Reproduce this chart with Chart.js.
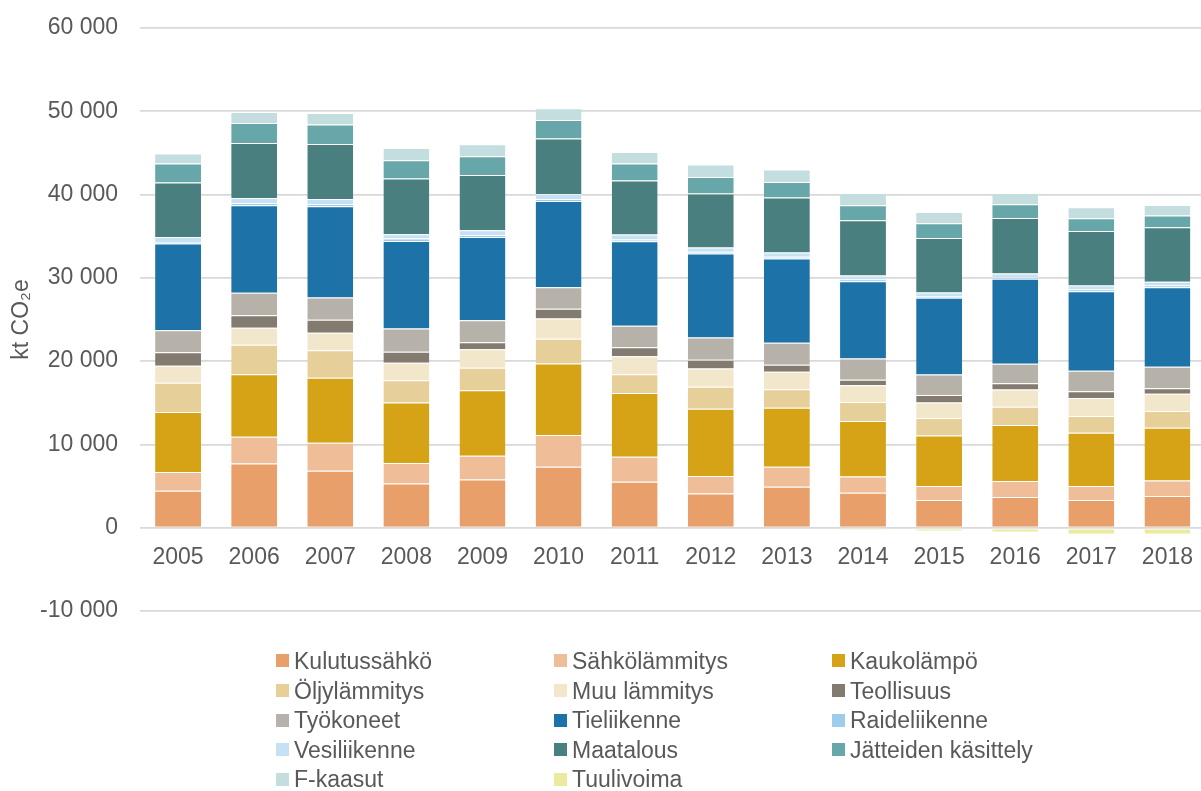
<!DOCTYPE html>
<html>
<head>
<meta charset="utf-8">
<script src="https://cdn.jsdelivr.net/npm/chart.js@4.4.1/dist/chart.umd.min.js"></script>
<style>
  html, body { margin: 0; padding: 0; background: #fff; overflow: hidden; }
  #wrap { position: relative; width: 1209px; height: 791px; }
  #legend { position: absolute; left: 276px; top: 647px; font-family: "Liberation Sans", Arial, sans-serif; font-size: 23px; color: #595959; }
  .li { position: absolute; white-space: nowrap; height: 29px; line-height: 29px; }
  .li span.box { display: inline-block; width: 13px; height: 13px; margin-right: 5px; vertical-align: middle; position: relative; top: -2px; }
</style>
</head>
<body>
<div id="wrap">
  <canvas id="c" width="1209" height="791"></canvas>
  <div id="legend"></div>
</div>
<script>
const years = ['2005','2006','2007','2008','2009','2010','2011','2012','2013','2014','2015','2016','2017','2018'];
const seriesNames = ['Kulutussähkö','Sähkölämmitys','Kaukolämpö','Öljylämmitys','Muu lämmitys','Teollisuus','Työkoneet','Tieliikenne','Raideliikenne','Vesiliikenne','Maatalous','Jätteiden käsittely','F-kaasut','Tuulivoima'];
const kulutussahko   = [4440, 7720, 6840, 5320, 5800, 7320, 5520, 4120, 4920, 4200, 3320, 3680, 3320, 3800];
const sahkolammitys  = [2240, 3200, 3360, 2440, 2840, 3800, 3000, 2080, 2400, 1960, 1680, 1920, 1680, 1880];
const kaukolampo     = [7200, 7520, 7800, 7280, 7880, 8600, 7640, 8080, 7080, 6640, 6080, 6720, 6400, 6320];
const oljylammitys   = [3520, 3520, 3320, 2680, 2680, 2960, 2280, 2640, 2240, 2280, 2080, 2200, 2000, 2000];
const muulammitys    = [2040, 2040, 2080, 2080, 2240, 2440, 2160, 2200, 2080, 2040, 1880, 2080, 2160, 2080];
const teollisuus     = [1640, 1520, 1560, 1320, 840, 1160, 1080, 1040, 840, 640, 880, 760, 840, 680];
const tyokoneet      = [2640, 2680, 2680, 2800, 2640, 2600, 2560, 2680, 2640, 2560, 2480, 2320, 2440, 2560];
const tieliikenne    = [10400, 10520, 10960, 10520, 10000, 10360, 10160, 10080, 10120, 9280, 9200, 10200, 9560, 9560];
const raideliikenne  = [200, 280, 280, 280, 200, 240, 200, 200, 200, 200, 160, 200, 200, 200];
const vesiliikenne   = [600, 600, 600, 520, 600, 600, 600, 520, 520, 480, 480, 440, 480, 440];
const maatalous      = [6520, 6600, 6600, 6680, 6640, 6640, 6480, 6480, 6600, 6640, 6560, 6680, 6560, 6560];
const jatteet        = [2280, 2400, 2320, 2200, 2240, 2240, 2040, 2000, 1880, 1800, 1760, 1640, 1520, 1400];
const fkaasut        = [1200, 1320, 1400, 1480, 1440, 1400, 1400, 1480, 1480, 1480, 1360, 1360, 1320, 1280];
const tuulivoima     = [0, 0, 0, 0, 0, 0, -20, -50, -100, -240, -360, -480, -720, -720];
const yTicks = [-10000, 0, 10000, 20000, 30000, 40000, 50000, 60000];

const seriesValues = [kulutussahko, sahkolammitys, kaukolampo, oljylammitys, muulammitys, teollisuus, tyokoneet, tieliikenne, raideliikenne, vesiliikenne, maatalous, jatteet, fkaasut, tuulivoima];
const colors = ['#E89F6A','#EFBD98','#D5A315','#E6CF98','#F3E7CB','#837B6F','#B6B1A9','#1D72A8','#9DCDEB','#C5E1F5','#4A7F7F','#68A7A9','#C4DEDF','#EBEBA0'];

const FONT = '"Liberation Sans", Arial, sans-serif';
const TXT = '#595959';

function fmt(v) {
  const s = String(Math.abs(v)).replace(/\B(?=(\d{3})+(?!\d))/g, ' ');
  return (v < 0 ? '-' : '') + s;
}

const datasets = seriesNames.map((n, i) => ({
  label: n,
  data: seriesValues[i],
  backgroundColor: colors[i],
  borderColor: 'rgba(255,255,255,0.55)',
  borderWidth: {top: 1, bottom: 0, left: 0, right: 0},
  borderSkipped: false,
  stack: 's',
  categoryPercentage: 1.0,
  barPercentage: 0.603
}));

const chart = new Chart(document.getElementById('c'), {
  type: 'bar',
  data: { labels: years, datasets },
  options: {
    responsive: false,
    animation: false,
    maintainAspectRatio: false,
    layout: { padding: { top: 28, bottom: 180, left: 0, right: 0 } },
    plugins: { legend: { display: false }, tooltip: { enabled: false } },
    scales: {
      x: {
        stacked: true,
        position: { y: 0 },
        grid: { display: false, drawTicks: false },
        border: { display: false },
        ticks: { color: TXT, font: { family: FONT, size: 23 }, padding: 16, maxRotation: 0, autoSkip: false }
      },
      y: {
        stacked: true,
        min: -10000, max: 60000,
        afterBuildTicks: (s) => { s.ticks = yTicks.map(v => ({ value: v })); },
        afterFit: (s) => { s.width = 140; s.paddingTop = 0; s.paddingBottom = 0; },
        grid: { color: '#D9D9D9', lineWidth: 1.7, drawTicks: false },
        border: { display: false },
        ticks: { color: TXT, font: { family: FONT, size: 23 }, padding: 22, callback: (v) => fmt(v) },
        title: { display: true, text: 'kt CO₂e', color: TXT, font: { family: FONT, size: 23 }, padding: { top: 8, bottom: 0 } }
      }
    }
  }
});

// HTML legend from chart datasets (3 columns, row-major)
const leg = document.getElementById('legend');
chart.data.datasets.forEach((d, i) => {
  const col = i % 3, row = Math.floor(i / 3);
  const el = document.createElement('div');
  el.className = 'li';
  el.style.left = (col * 278) + 'px';
  el.style.top = (row * 29.6) + 'px';
  const b = document.createElement('span');
  b.className = 'box';
  b.style.background = d.backgroundColor;
  el.appendChild(b);
  el.appendChild(document.createTextNode(d.label));
  leg.appendChild(el);
});
</script>
</body>
</html>
